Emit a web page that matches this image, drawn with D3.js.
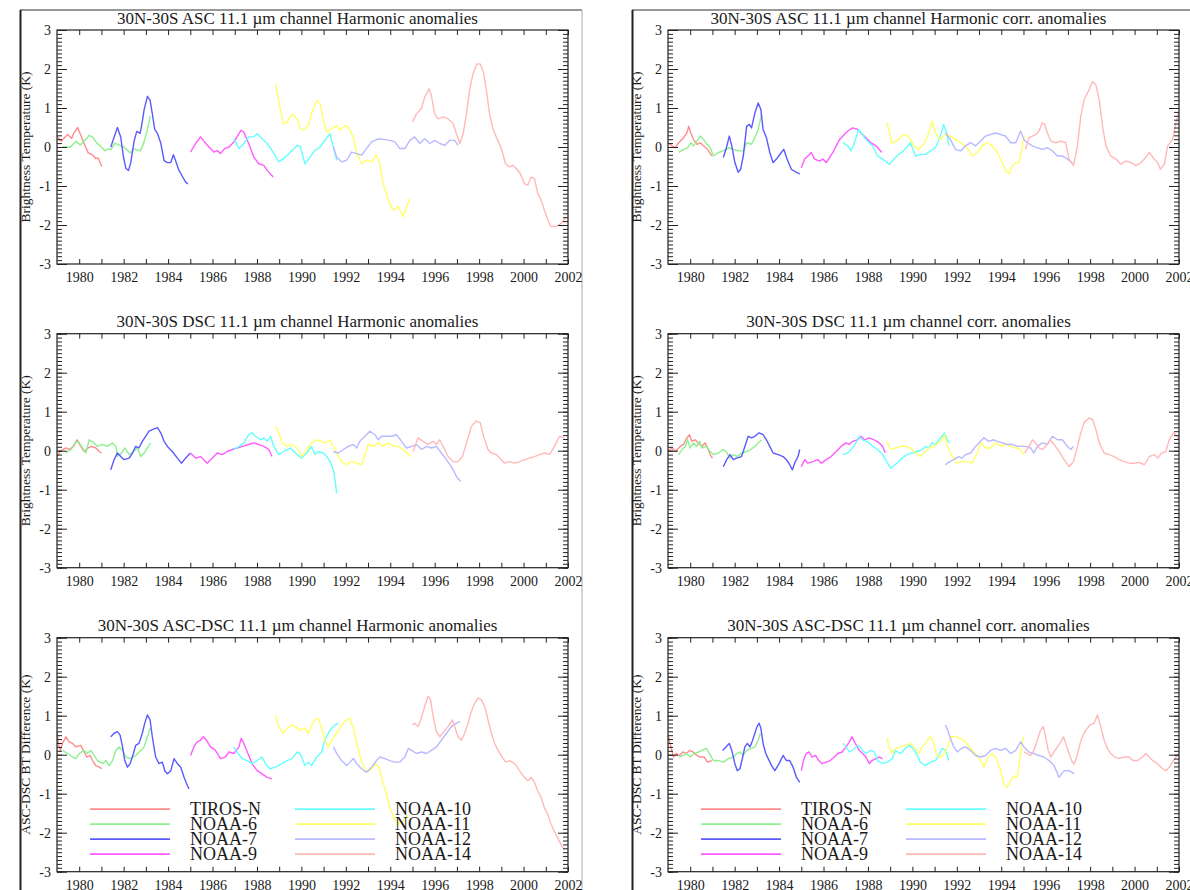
<!DOCTYPE html>
<html>
<head>
<meta charset="utf-8">
<script src="https://cdn.jsdelivr.net/npm/d3@7"></script>
<style>
  body { margin: 0; background: #fff; }
  svg text { font-family: "Liberation Serif", "Times New Roman", serif; fill: #1a1a1a; }
</style>
</head>
<body>
<svg id="chart" width="1190" height="890"></svg>
<script>
// satellites, in legend order
const satellites = ["TIROS-N", "NOAA-6", "NOAA-7", "NOAA-9", "NOAA-10", "NOAA-11", "NOAA-12", "NOAA-14"];
const xTickLabels = [1980, 1982, 1984, 1986, 1988, 1990, 1992, 1994, 1996, 1998, 2000, 2002];
const yTickLabels = [-3, -2, -1, 0, 1, 2, 3];
const panelTitles = [
  "30N-30S ASC 11.1 \u00b5m channel Harmonic anomalies",
  "30N-30S DSC 11.1 \u00b5m channel Harmonic anomalies",
  "30N-30S ASC-DSC 11.1 \u00b5m channel Harmonic anomalies",
  "30N-30S ASC 11.1 \u00b5m channel Harmonic corr. anomalies",
  "30N-30S DSC 11.1 \u00b5m channel corr. anomalies",
  "30N-30S ASC-DSC 11.1 \u00b5m channel corr. anomalies"
];
const yTitles = ["Brightness Temperature (K)", "Brightness Temperature (K)", "ASC-DSC BT Difference (K)"];

// [year, K], one list per satellite
const ascHarmonic = [
  [[1979.0,0.28],[1979.18,0.15],[1979.48,0.32],[1979.66,0.22],[1979.75,0.35],[1979.93,0.5],[1980.07,0.3],[1980.25,0.05],[1980.4,-0.15],[1980.6,-0.2],[1980.75,-0.3],[1980.85,-0.28],[1981.02,-0.5]],
  [[1979.25,0.0],[1979.6,0.0],[1979.85,0.15],[1980.05,0.05],[1980.3,0.2],[1980.45,0.3],[1980.6,0.25],[1980.8,0.1],[1981.0,0.0],[1981.15,-0.1],[1981.3,-0.05],[1981.45,-0.05],[1981.6,0.1],[1981.8,0.05],[1982.0,0.0],[1982.3,-0.15],[1982.45,-0.05],[1982.75,-0.1],[1982.9,0.1],[1983.05,0.4],[1983.2,0.8]],
  [[1981.42,0.0],[1981.57,0.25],[1981.72,0.5],[1981.87,0.25],[1981.99,-0.25],[1982.1,-0.55],[1982.22,-0.6],[1982.32,-0.4],[1982.47,0.15],[1982.59,0.4],[1982.74,0.35],[1982.84,0.65],[1982.92,0.95],[1983.07,1.3],[1983.19,1.2],[1983.29,0.85],[1983.4,0.45],[1983.52,0.35],[1983.67,0.1],[1983.82,-0.35],[1983.97,-0.4],[1984.12,-0.4],[1984.24,-0.2],[1984.34,-0.35],[1984.49,-0.6],[1984.64,-0.75],[1984.79,-0.9],[1984.9,-0.95]],
  [[1985.01,-0.13],[1985.24,0.09],[1985.46,0.26],[1985.64,0.13],[1985.84,0.0],[1986.06,-0.13],[1986.21,-0.09],[1986.36,-0.17],[1986.54,-0.04],[1986.74,0.0],[1986.96,0.13],[1987.14,0.3],[1987.29,0.43],[1987.41,0.38],[1987.63,0.09],[1987.86,-0.26],[1988.08,-0.43],[1988.31,-0.47],[1988.46,-0.6],[1988.73,-0.77]],
  [[1986.96,0.21],[1987.19,-0.04],[1987.41,0.09],[1987.63,0.26],[1987.86,0.26],[1988.01,0.34],[1988.23,0.21],[1988.46,0.09],[1988.68,-0.09],[1988.98,-0.38],[1989.28,-0.26],[1989.58,-0.09],[1989.81,0.04],[1989.95,0.02],[1990.16,-0.43],[1990.39,-0.26],[1990.61,-0.09],[1990.84,0.0],[1991.06,0.17],[1991.29,0.34],[1991.44,0.0],[1991.59,-0.34]],
  [[1988.83,1.62],[1988.98,1.19],[1989.18,0.6],[1989.36,0.64],[1989.58,0.85],[1989.81,0.72],[1989.96,0.47],[1990.09,0.43],[1990.31,0.55],[1990.46,0.85],[1990.69,1.19],[1990.84,1.11],[1990.99,0.68],[1991.14,0.38],[1991.36,0.47],[1991.59,0.55],[1991.74,0.43],[1991.96,0.55],[1992.11,0.51],[1992.34,0.26],[1992.49,-0.17],[1992.71,-0.43],[1992.93,-0.34],[1993.16,-0.38],[1993.38,-0.21],[1993.53,-0.43],[1993.68,-0.94],[1993.91,-1.36],[1994.13,-1.62],[1994.36,-1.53],[1994.58,-1.79],[1994.73,-1.53],[1994.88,-1.32]],
  [[1991.44,0],[1991.59,-0.26],[1991.81,-0.38],[1992.04,-0.34],[1992.26,-0.13],[1992.49,-0.17],[1992.71,-0.21],[1992.93,-0.04],[1993.16,0.13],[1993.46,0.21],[1993.76,0.19],[1993.98,0.17],[1994.21,0.13],[1994.43,-0.04],[1994.66,-0.04],[1994.88,0.17],[1995.1,0.26],[1995.33,0.09],[1995.55,0.21],[1995.78,0.09],[1996.0,0.17],[1996.23,0.09],[1996.45,0.04],[1996.68,0.17],[1996.9,0.17],[1997.05,0.04]],
  [[1995.0,0.64],[1995.18,0.85],[1995.4,0.98],[1995.55,1.28],[1995.75,1.49],[1995.85,1.32],[1996.0,0.85],[1996.15,0.72],[1996.38,0.77],[1996.6,0.72],[1996.83,0.6],[1996.98,0.34],[1997.13,0.09],[1997.28,0.34],[1997.43,0.85],[1997.57,1.45],[1997.72,1.87],[1997.9,2.13],[1998.05,2.13],[1998.2,1.91],[1998.35,1.36],[1998.47,0.85],[1998.62,0.47],[1998.77,0.26],[1999.0,-0.04],[1999.19,-0.43],[1999.37,-0.51],[1999.52,-0.47],[1999.67,-0.55],[1999.85,-0.68],[2000.04,-0.94],[2000.19,-0.98],[2000.34,-0.77],[2000.49,-0.81],[2000.64,-1.19],[2000.79,-1.36],[2000.94,-1.62],[2001.09,-1.87],[2001.23,-2.04],[2001.46,-2.04],[2001.69,-1.96],[2001.92,-1.79]]
];

const dscHarmonic = [
  [[1979.0,-0.15],[1979.18,0.0],[1979.4,0.07],[1979.55,0.03],[1979.75,0.11],[1979.9,0.28],[1980.07,0.11],[1980.22,-0.02],[1980.4,0.07],[1980.55,0.11],[1980.75,0.07],[1980.9,-0.02],[1981.0,-0.06]],
  [[1979.4,-0.06],[1979.63,0.03],[1979.81,0.2],[1979.96,0.24],[1980.15,0.07],[1980.3,-0.06],[1980.45,0.28],[1980.67,0.2],[1980.82,0.11],[1981.05,0.16],[1981.27,0.11],[1981.5,0.2],[1981.65,0.11],[1981.72,-0.15],[1981.9,-0.06],[1982.05,0.07],[1982.25,-0.1],[1982.44,-0.02],[1982.62,0.07],[1982.77,-0.15],[1982.92,-0.06],[1983.07,0.07],[1983.22,0.2]],
  [[1981.42,-0.49],[1981.57,-0.23],[1981.72,-0.06],[1981.87,-0.15],[1982.02,-0.23],[1982.25,-0.19],[1982.4,-0.06],[1982.54,0.11],[1982.69,0.07],[1982.84,0.24],[1982.99,0.37],[1983.14,0.5],[1983.29,0.54],[1983.52,0.59],[1983.67,0.46],[1983.82,0.24],[1983.97,0.11],[1984.19,-0.02],[1984.42,-0.19],[1984.6,-0.32],[1984.79,-0.19],[1985.01,-0.06]],
  [[1985.01,-0.06],[1985.24,-0.19],[1985.46,-0.15],[1985.76,-0.32],[1985.99,-0.19],[1986.21,-0.06],[1986.44,-0.1],[1986.66,-0.02],[1986.89,0.03],[1987.11,0.07],[1987.34,0.11],[1987.63,0.16],[1987.86,0.2],[1988.08,0.16],[1988.31,0.11],[1988.53,0.03],[1988.68,-0.15]],
  [[1986.96,0.03],[1987.19,0.11],[1987.41,0.2],[1987.63,0.41],[1987.78,0.46],[1987.93,0.37],[1988.16,0.28],[1988.31,0.33],[1988.46,0.24],[1988.61,0.37],[1988.76,0.11],[1988.98,-0.1],[1989.21,-0.02],[1989.51,0.07],[1989.66,-0.02],[1989.85,-0.12],[1990.01,-0.19],[1990.24,-0.06],[1990.46,0.11],[1990.61,-0.1],[1990.76,-0.02],[1990.99,-0.06],[1991.14,-0.15],[1991.29,-0.28],[1991.44,-0.49],[1991.51,-0.75],[1991.59,-1.09]],
  [[1988.83,0.63],[1988.98,0.46],[1989.13,0.2],[1989.36,0.11],[1989.58,0.16],[1989.81,0.07],[1990.01,-0.15],[1990.24,0.03],[1990.46,0.2],[1990.69,0.28],[1990.91,0.24],[1991.06,0.2],[1991.29,0.28],[1991.44,0.11],[1991.66,-0.15],[1991.81,-0.28],[1992.04,-0.36],[1992.26,-0.28],[1992.49,-0.32],[1992.71,-0.36],[1992.86,-0.1],[1993.01,0.16],[1993.23,0.11],[1993.46,0.2],[1993.68,0.11],[1993.91,0.2],[1994.13,0.11],[1994.36,0.11],[1994.58,0.03],[1994.81,-0.1],[1994.96,-0.15]],
  [[1991.44,-0.02],[1991.66,-0.06],[1991.89,0.03],[1992.11,0.11],[1992.34,0.16],[1992.49,0.07],[1992.63,0.24],[1992.86,0.37],[1993.08,0.5],[1993.31,0.41],[1993.46,0.28],[1993.61,0.37],[1993.83,0.37],[1994.06,0.37],[1994.28,0.41],[1994.51,0.24],[1994.73,0.07],[1994.96,0.11],[1995.18,0.16],[1995.41,0.03],[1995.63,0.11],[1995.85,0.07],[1996.08,0.11],[1996.3,-0.06],[1996.53,-0.23],[1996.75,-0.41],[1996.98,-0.66],[1997.16,-0.79]],
  [[1995.03,-0.02],[1995.25,0.33],[1995.48,0.24],[1995.7,0.16],[1995.93,0.24],[1996.08,0.16],[1996.23,0.28],[1996.38,0.11],[1996.6,-0.15],[1996.83,-0.28],[1997.05,-0.28],[1997.25,-0.15],[1997.43,0.2],[1997.66,0.63],[1997.87,0.76],[1998.05,0.72],[1998.2,0.37],[1998.4,0.03],[1998.55,-0.06],[1998.77,-0.1],[1999.0,-0.23],[1999.15,-0.32],[1999.37,-0.28],[1999.6,-0.32],[1999.82,-0.28],[2000.04,-0.23],[2000.27,-0.19],[2000.49,-0.15],[2000.72,-0.1],[2000.94,-0.06],[2001.17,-0.1],[2001.39,0.11],[2001.62,0.37],[2001.84,0.33]]
];

const ascDscHarmonic = [
  [[1979.0,0.59],[1979.06,0.29],[1979.15,0.11],[1979.25,0.29],[1979.4,0.46],[1979.55,0.33],[1979.7,0.29],[1979.85,0.2],[1980.07,0.24],[1980.22,0.07],[1980.34,-0.06],[1980.49,-0.02],[1980.6,-0.15],[1980.75,-0.28],[1980.9,-0.32],[1981.02,-0.36]],
  [[1979.25,0.11],[1979.48,0.03],[1979.7,-0.06],[1979.85,-0.1],[1980.0,0.03],[1980.22,0.11],[1980.37,0.03],[1980.52,0.11],[1980.67,-0.02],[1980.82,-0.15],[1981.05,-0.23],[1981.2,-0.15],[1981.35,-0.28],[1981.5,-0.15],[1981.65,0.11],[1981.8,0.2],[1981.95,0.11],[1982.1,-0.06],[1982.32,-0.1],[1982.54,-0.02],[1982.77,0.11],[1982.92,0.2],[1983.07,0.46],[1983.19,0.68]],
  [[1981.42,0.46],[1981.57,0.55],[1981.72,0.59],[1981.84,0.5],[1981.95,0.2],[1982.05,-0.15],[1982.17,-0.32],[1982.29,-0.23],[1982.44,0.03],[1982.54,0.24],[1982.69,0.29],[1982.84,0.55],[1982.95,0.81],[1983.07,1.02],[1983.19,0.89],[1983.29,0.46],[1983.44,-0.06],[1983.59,-0.23],[1983.74,-0.19],[1983.85,-0.41],[1983.97,-0.49],[1984.12,-0.41],[1984.27,-0.1],[1984.42,-0.23],[1984.57,-0.32],[1984.72,-0.58],[1984.84,-0.75],[1984.94,-0.88]],
  [[1985.01,-0.02],[1985.16,0.2],[1985.31,0.33],[1985.46,0.37],[1985.58,0.46],[1985.73,0.37],[1985.91,0.2],[1986.13,0.11],[1986.36,-0.1],[1986.57,-0.06],[1986.74,0.07],[1986.96,0.03],[1987.19,0.2],[1987.29,0.42],[1987.41,0.29],[1987.63,-0.02],[1987.78,-0.23],[1988.01,-0.41],[1988.23,-0.49],[1988.46,-0.58],[1988.68,-0.62]],
  [[1986.96,0.2],[1987.14,0.03],[1987.34,-0.1],[1987.56,-0.15],[1987.78,-0.23],[1988.01,-0.15],[1988.23,-0.06],[1988.38,-0.23],[1988.58,-0.36],[1988.83,-0.32],[1989.13,-0.23],[1989.36,-0.15],[1989.58,-0.1],[1989.81,0.07],[1989.94,0.03],[1990.16,-0.28],[1990.31,-0.19],[1990.46,-0.28],[1990.69,-0.06],[1990.91,0.07],[1991.06,0.37],[1991.21,0.55],[1991.36,0.68],[1991.51,0.76],[1991.66,0.81]],
  [[1988.83,1.02],[1988.98,0.72],[1989.18,0.55],[1989.36,0.68],[1989.58,0.76],[1989.73,0.72],[1989.94,0.63],[1990.16,0.68],[1990.31,0.55],[1990.46,0.76],[1990.61,0.89],[1990.76,0.94],[1990.91,0.68],[1991.06,0.37],[1991.21,0.2],[1991.36,0.37],[1991.59,0.55],[1991.74,0.68],[1991.89,0.81],[1992.04,0.89],[1992.16,0.94],[1992.34,0.68],[1992.49,0.29],[1992.63,-0.02],[1992.78,-0.28],[1992.96,-0.45],[1993.16,-0.36],[1993.35,-0.23],[1993.5,-0.32],[1993.65,-0.67],[1993.83,-1.01],[1993.98,-1.36],[1994.16,-1.62],[1994.36,-1.79],[1994.58,-1.71],[1994.81,-1.53]],
  [[1991.44,0.2],[1991.59,0.03],[1991.81,-0.15],[1992.04,-0.28],[1992.19,-0.19],[1992.34,-0.1],[1992.49,-0.23],[1992.71,-0.36],[1992.93,-0.45],[1993.16,-0.32],[1993.38,-0.15],[1993.53,-0.06],[1993.76,-0.1],[1993.98,-0.15],[1994.21,-0.19],[1994.43,-0.19],[1994.66,-0.06],[1994.81,0.16],[1994.96,0.11],[1995.18,0.03],[1995.4,0.07],[1995.63,0.03],[1995.85,0.11],[1996.08,0.2],[1996.3,0.37],[1996.53,0.55],[1996.75,0.72],[1996.98,0.81],[1997.13,0.85]],
  [[1995.0,0.76],[1995.1,0.81],[1995.25,0.72],[1995.4,0.94],[1995.55,1.24],[1995.7,1.5],[1995.81,1.41],[1995.93,0.98],[1996.08,0.59],[1996.23,0.46],[1996.41,0.59],[1996.6,0.72],[1996.8,0.89],[1996.9,0.72],[1997.05,0.46],[1997.2,0.37],[1997.35,0.55],[1997.5,0.81],[1997.65,1.11],[1997.8,1.32],[1997.95,1.45],[1998.1,1.41],[1998.25,1.24],[1998.4,0.89],[1998.55,0.55],[1998.7,0.29],[1998.85,0.11],[1999.04,-0.06],[1999.19,-0.19],[1999.37,-0.15],[1999.6,-0.23],[1999.82,-0.41],[2000.04,-0.58],[2000.19,-0.67],[2000.34,-0.58],[2000.49,-0.71],[2000.64,-0.93],[2000.79,-1.1],[2000.94,-1.36],[2001.09,-1.53],[2001.24,-1.79],[2001.39,-1.97],[2001.54,-2.14],[2001.69,-2.31],[2001.84,-2.44]]
];

const ascCorr = [
  [[1979.0,0.11],[1979.18,0.03],[1979.33,-0.02],[1979.48,0.11],[1979.7,0.24],[1979.85,0.36],[1979.93,0.53],[1980.03,0.36],[1980.15,0.19],[1980.3,0.07],[1980.45,0.11],[1980.6,0.03],[1980.78,-0.06],[1980.97,-0.23]],
  [[1979.48,-0.14],[1979.7,-0.06],[1979.88,-0.02],[1980.03,0.11],[1980.15,0.03],[1980.3,0.15],[1980.45,0.28],[1980.6,0.19],[1980.75,0.07],[1980.9,-0.02],[1981.04,-0.23],[1981.27,-0.14],[1981.49,-0.1],[1981.72,-0.02],[1981.94,-0.06],[1982.16,-0.1],[1982.39,-0.1],[1982.54,0.11],[1982.76,0.07],[1982.91,0.24],[1983.06,0.45],[1983.21,0.83]],
  [[1981.49,-0.27],[1981.61,-0.06],[1981.76,0.28],[1981.87,0.03],[1982.01,-0.4],[1982.16,-0.65],[1982.27,-0.57],[1982.39,-0.23],[1982.54,0.53],[1982.66,0.58],[1982.76,0.49],[1982.91,0.87],[1983.06,1.13],[1983.18,0.96],[1983.28,0.45],[1983.43,0.24],[1983.58,-0.14],[1983.73,-0.4],[1983.88,-0.31],[1984.1,-0.14],[1984.21,-0.06],[1984.36,-0.31],[1984.55,-0.57],[1984.78,-0.65],[1984.93,-0.69]],
  [[1985.0,-0.53],[1985.15,-0.31],[1985.3,-0.23],[1985.45,-0.14],[1985.6,-0.31],[1985.82,-0.36],[1985.97,-0.31],[1986.12,-0.4],[1986.27,-0.27],[1986.42,-0.14],[1986.57,0.03],[1986.72,0.19],[1986.94,0.32],[1987.09,0.41],[1987.31,0.49],[1987.54,0.45],[1987.69,0.36],[1987.91,0.24],[1988.13,0.11],[1988.36,0.03],[1988.63,-0.14]],
  [[1986.87,0.11],[1987.09,0.03],[1987.24,-0.1],[1987.39,0.11],[1987.58,0.45],[1987.76,0.32],[1987.91,0.19],[1988.06,0.11],[1988.21,0.03],[1988.43,-0.23],[1988.66,-0.31],[1988.96,-0.44],[1989.3,-0.23],[1989.6,-0.1],[1989.91,0.11],[1990.14,-0.23],[1990.36,-0.19],[1990.59,-0.19],[1990.81,-0.1],[1991.04,-0.02],[1991.26,0.28],[1991.41,0.58],[1991.56,0.32],[1991.64,0.03]],
  [[1988.84,0.62],[1988.96,0.41],[1989.07,0.11],[1989.16,0.11],[1989.38,0.19],[1989.61,0.32],[1989.83,0.28],[1990.06,0.03],[1990.29,-0.06],[1990.51,0.07],[1990.74,0.36],[1990.89,0.66],[1991.04,0.36],[1991.26,0.19],[1991.49,0.32],[1991.71,0.28],[1991.94,0.19],[1992.17,0.11],[1992.47,-0.02],[1992.69,-0.23],[1992.92,-0.14],[1993.14,0.03],[1993.37,0.11],[1993.59,0.03],[1993.82,-0.14],[1994.05,-0.4],[1994.2,-0.61],[1994.35,-0.69],[1994.5,-0.48],[1994.65,-0.4],[1994.8,-0.4],[1994.95,0.03],[1995.05,0.28]],
  [[1991.49,0.36],[1991.71,0.19],[1991.94,-0.06],[1992.17,-0.1],[1992.39,0.03],[1992.62,0.11],[1992.84,0.03],[1993.07,0.15],[1993.29,0.28],[1993.52,0.32],[1993.74,0.36],[1993.97,0.32],[1994.2,0.28],[1994.42,0.11],[1994.65,0.11],[1994.87,0.41],[1995.02,0.19],[1995.17,0.11],[1995.4,0.03],[1995.62,-0.02],[1995.85,-0.06],[1996.08,-0.02],[1996.3,-0.1],[1996.53,-0.23],[1996.75,-0.23],[1996.98,-0.31],[1997.2,-0.4]],
  [[1995.1,-0.06],[1995.25,0.24],[1995.4,0.28],[1995.55,0.32],[1995.7,0.41],[1995.85,0.62],[1995.95,0.58],[1996.08,0.36],[1996.23,0.15],[1996.45,0.11],[1996.68,0.15],[1996.9,0.11],[1997.05,-0.31],[1997.25,-0.48],[1997.43,0.03],[1997.58,0.79],[1997.73,1.21],[1997.95,1.47],[1998.11,1.68],[1998.26,1.59],[1998.41,1.21],[1998.56,0.53],[1998.71,0.03],[1998.93,-0.23],[1999.16,-0.31],[1999.38,-0.44],[1999.61,-0.36],[1999.83,-0.4],[2000.06,-0.48],[2000.29,-0.4],[2000.44,-0.31],[2000.66,-0.14],[2000.89,-0.31],[2001.04,-0.4],[2001.16,-0.57],[2001.34,-0.44],[2001.49,0.03],[2001.71,0.19],[2001.86,0.62],[2002.0,0.9]]
];

const dscCorr = [
  [[1979.0,-0.02],[1979.18,0.07],[1979.33,-0.02],[1979.55,0.11],[1979.7,0.16],[1979.85,0.33],[1979.97,0.41],[1980.07,0.24],[1980.22,0.28],[1980.37,0.2],[1980.52,0.11],[1980.67,0.2],[1980.78,0.07],[1980.9,-0.1],[1981.0,-0.19]],
  [[1979.48,-0.1],[1979.63,0.03],[1979.78,0.11],[1979.88,0.28],[1980.0,0.07],[1980.15,0.2],[1980.3,0.11],[1980.42,0.24],[1980.52,0.07],[1980.72,0.11],[1980.9,-0.02],[1981.04,-0.1],[1981.27,-0.06],[1981.49,0.03],[1981.61,-0.02],[1981.79,-0.19],[1981.94,-0.1],[1982.12,-0.15],[1982.31,-0.06],[1982.54,-0.02],[1982.72,0.03],[1982.91,0.11],[1983.06,0.2],[1983.21,0.28]],
  [[1981.49,-0.41],[1981.64,-0.23],[1981.79,-0.1],[1981.94,-0.23],[1982.09,-0.19],[1982.31,-0.15],[1982.46,0.11],[1982.61,0.37],[1982.76,0.33],[1982.91,0.37],[1983.1,0.46],[1983.28,0.41],[1983.43,0.28],[1983.58,0.11],[1983.73,-0.06],[1983.96,-0.1],[1984.18,-0.15],[1984.33,-0.23],[1984.48,-0.36],[1984.6,-0.49],[1984.7,-0.32],[1984.85,-0.15],[1984.93,0.03]],
  [[1985.0,-0.41],[1985.15,-0.23],[1985.3,-0.32],[1985.52,-0.28],[1985.75,-0.23],[1985.9,-0.32],[1986.12,-0.23],[1986.34,-0.15],[1986.57,-0.02],[1986.79,0.11],[1987.01,0.2],[1987.16,0.16],[1987.31,0.24],[1987.54,0.28],[1987.69,0.37],[1987.84,0.28],[1988.06,0.33],[1988.28,0.28],[1988.51,0.2],[1988.66,0.11],[1988.78,-0.06]],
  [[1986.87,-0.1],[1987.09,-0.06],[1987.31,0.07],[1987.46,0.2],[1987.61,0.37],[1987.76,0.28],[1987.91,0.24],[1988.06,0.2],[1988.21,0.11],[1988.43,0.03],[1988.66,-0.1],[1988.88,-0.32],[1989.03,-0.45],[1989.31,-0.32],[1989.53,-0.19],[1989.76,-0.1],[1989.98,-0.06],[1990.21,-0.02],[1990.44,0.03],[1990.59,0.11],[1990.74,0.07],[1990.89,0.2],[1991.04,0.16],[1991.19,0.28],[1991.34,0.37],[1991.44,0.46],[1991.56,0.28],[1991.68,0.2]],
  [[1988.84,0.24],[1988.99,0.07],[1989.1,0.03],[1989.23,0.07],[1989.46,0.11],[1989.68,0.11],[1989.91,0.07],[1990.14,-0.06],[1990.36,-0.15],[1990.51,-0.06],[1990.74,0.07],[1990.96,0.11],[1991.19,0.2],[1991.34,0.28],[1991.44,0.41],[1991.59,0.11],[1991.79,-0.15],[1992.02,-0.32],[1992.24,-0.28],[1992.47,-0.28],[1992.69,-0.32],[1992.92,-0.06],[1993.07,0.2],[1993.29,0.07],[1993.52,0.07],[1993.74,0.2],[1993.97,0.11],[1994.2,0.16],[1994.42,0.11],[1994.65,0.07],[1994.87,0.03],[1995.02,-0.1]],
  [[1991.49,-0.36],[1991.68,-0.28],[1991.86,-0.23],[1992.09,-0.15],[1992.24,-0.19],[1992.39,-0.1],[1992.62,-0.06],[1992.84,0.11],[1993.07,0.24],[1993.22,0.33],[1993.44,0.24],[1993.67,0.28],[1993.82,0.24],[1994.05,0.2],[1994.27,0.16],[1994.5,0.16],[1994.72,0.11],[1994.95,0.11],[1995.1,0.11],[1995.32,0.07],[1995.47,-0.06],[1995.62,0.11],[1995.85,0.2],[1996.08,0.16],[1996.3,0.37],[1996.53,0.28],[1996.75,0.28],[1996.98,0.11],[1997.13,0.03],[1997.25,0.11]],
  [[1995.05,-0.06],[1995.25,0.11],[1995.4,0.28],[1995.55,0.2],[1995.7,0.07],[1995.85,0.03],[1996.0,0.11],[1996.2,0.28],[1996.38,0.16],[1996.6,-0.02],[1996.83,-0.23],[1997.05,-0.41],[1997.25,-0.28],[1997.43,0.11],[1997.58,0.46],[1997.73,0.72],[1997.95,0.84],[1998.11,0.8],[1998.26,0.54],[1998.41,0.2],[1998.63,-0.06],[1998.86,-0.1],[1999.08,-0.15],[1999.31,-0.23],[1999.53,-0.28],[1999.76,-0.32],[1999.98,-0.32],[2000.21,-0.3],[2000.44,-0.36],[2000.66,-0.15],[2000.89,-0.1],[2001.04,-0.19],[2001.22,-0.06],[2001.41,-0.02],[2001.56,0.28],[2001.76,0.46],[2001.91,0.37],[2002.0,0.28]]
];

const ascDscCorr = [
  [[1979.0,0.5],[1979.13,0.2],[1979.25,-0.06],[1979.37,0.03],[1979.52,-0.02],[1979.67,0.07],[1979.82,0.03],[1979.97,0.11],[1980.12,0.07],[1980.3,-0.02],[1980.45,-0.06],[1980.63,-0.06],[1980.78,-0.19],[1980.97,-0.15]],
  [[1979.48,-0.06],[1979.67,-0.02],[1979.82,0.03],[1980.0,-0.06],[1980.18,0.03],[1980.37,0.07],[1980.52,0.11],[1980.72,0.16],[1980.87,0.03],[1981.04,-0.15],[1981.27,-0.15],[1981.49,-0.19],[1981.72,-0.1],[1981.94,-0.06],[1982.09,0.03],[1982.24,0.07],[1982.39,-0.02],[1982.54,0.11],[1982.76,0.16],[1982.91,0.2],[1983.06,0.37],[1983.16,0.55]],
  [[1981.46,0.11],[1981.61,0.2],[1981.76,0.29],[1981.87,0.11],[1982.01,-0.23],[1982.12,-0.41],[1982.24,-0.36],[1982.36,-0.06],[1982.46,0.2],[1982.57,0.29],[1982.69,0.2],[1982.81,0.37],[1982.91,0.55],[1983.01,0.72],[1983.1,0.81],[1983.18,0.68],[1983.28,0.29],[1983.4,0.03],[1983.51,-0.1],[1983.66,-0.28],[1983.81,-0.41],[1984.0,-0.23],[1984.18,-0.02],[1984.33,-0.15],[1984.48,-0.15],[1984.63,-0.32],[1984.78,-0.58],[1984.93,-0.71]],
  [[1985.0,-0.41],[1985.1,-0.15],[1985.22,0.03],[1985.34,0.07],[1985.49,-0.06],[1985.64,-0.02],[1985.79,-0.15],[1985.94,-0.23],[1986.12,-0.19],[1986.3,-0.15],[1986.49,-0.06],[1986.64,0.03],[1986.84,0.07],[1987.01,0.2],[1987.16,0.33],[1987.28,0.46],[1987.43,0.29],[1987.61,0.11],[1987.76,0.03],[1987.91,-0.06],[1988.06,-0.23],[1988.18,-0.15],[1988.36,-0.1],[1988.51,-0.06],[1988.66,-0.1]],
  [[1986.87,0.29],[1987.01,0.2],[1987.16,0.07],[1987.39,0.16],[1987.58,0.24],[1987.76,0.11],[1987.91,0.03],[1988.13,0.11],[1988.28,0.07],[1988.43,-0.15],[1988.66,-0.23],[1988.88,-0.19],[1989.1,-0.1],[1989.23,0.11],[1989.46,0.03],[1989.68,0.16],[1989.91,0.24],[1990.14,0.07],[1990.36,-0.19],[1990.59,-0.28],[1990.81,-0.19],[1991.04,-0.15],[1991.19,-0.02],[1991.34,0.16],[1991.49,0.11],[1991.64,-0.15]],
  [[1988.84,0.42],[1988.96,0.2],[1989.07,0.03],[1989.23,0.16],[1989.46,0.2],[1989.68,0.24],[1989.91,0.29],[1990.14,0.16],[1990.29,0.03],[1990.44,0.2],[1990.59,0.29],[1990.74,0.42],[1990.84,0.46],[1990.96,0.29],[1991.11,-0.02],[1991.26,-0.06],[1991.44,0.03],[1991.59,0.2],[1991.74,0.46],[1991.94,0.46],[1992.17,0.42],[1992.39,0.33],[1992.62,0.16],[1992.84,0.03],[1993.07,-0.15],[1993.22,-0.32],[1993.4,-0.06],[1993.59,0.03],[1993.79,-0.1],[1993.97,-0.41],[1994.12,-0.75],[1994.27,-0.84],[1994.42,-0.67],[1994.57,-0.54],[1994.72,-0.58],[1994.87,0.03],[1994.99,0.46]],
  [[1991.49,0.76],[1991.59,0.63],[1991.71,0.42],[1991.86,0.2],[1992.02,0.07],[1992.2,0.16],[1992.39,0.2],[1992.62,0.11],[1992.84,-0.02],[1993.07,-0.06],[1993.29,-0.02],[1993.52,0.11],[1993.74,0.16],[1993.97,0.11],[1994.2,0.16],[1994.42,0.03],[1994.65,0.11],[1994.87,0.33],[1995.02,0.2],[1995.25,0.07],[1995.47,0.03],[1995.7,-0.02],[1995.92,-0.06],[1996.15,-0.15],[1996.38,-0.28],[1996.6,-0.58],[1996.83,-0.41],[1997.05,-0.41],[1997.28,-0.49]],
  [[1995.02,0.07],[1995.17,0.03],[1995.32,-0.02],[1995.47,0.11],[1995.62,0.37],[1995.77,0.63],[1995.89,0.72],[1996.0,0.46],[1996.11,0.11],[1996.23,-0.06],[1996.38,0.07],[1996.53,0.2],[1996.68,0.33],[1996.8,0.46],[1996.9,0.29],[1997.05,0.03],[1997.2,-0.19],[1997.28,-0.23],[1997.4,-0.06],[1997.55,0.29],[1997.65,0.46],[1997.8,0.63],[1998.0,0.76],[1998.18,0.81],[1998.33,1.02],[1998.48,0.72],[1998.63,0.37],[1998.78,0.16],[1998.93,0.03],[1999.11,-0.06],[1999.31,-0.1],[1999.53,-0.06],[1999.76,-0.06],[1999.91,-0.15],[2000.14,-0.15],[2000.36,-0.06],[2000.51,0.03],[2000.66,-0.06],[2000.81,-0.15],[2001.04,-0.23],[2001.26,-0.36],[2001.41,-0.41],[2001.56,-0.32],[2001.71,-0.19],[2001.86,-0.06],[2002.0,0.03]]
];

// styling
const colors = ["#ff8c8c", "#8ef08e", "#5a5aff", "#ff5cff", "#66ffff", "#ffff66", "#b9b9ff", "#ffb9b9"];
const serif = '"Liberation Serif", "Times New Roman", serif';
const plotW = 511, plotH = 234;
const colLeft = [57, 668];
const rowTop = [30, 333.7, 637.7];

const panels = [
  {col: 0, row: 0, data: ascHarmonic, title: panelTitles[0], ytitle: yTitles[0]},
  {col: 0, row: 1, data: dscHarmonic, title: panelTitles[1], ytitle: yTitles[1]},
  {col: 0, row: 2, data: ascDscHarmonic, title: panelTitles[2], ytitle: yTitles[2], legend: true},
  {col: 1, row: 0, data: ascCorr, title: panelTitles[3], ytitle: yTitles[0]},
  {col: 1, row: 1, data: dscCorr, title: panelTitles[4], ytitle: yTitles[1]},
  {col: 1, row: 2, data: ascDscCorr, title: panelTitles[5], ytitle: yTitles[2], legend: true}
];

const svg = d3.select("#chart");
svg.append("rect").attr("width", 1190).attr("height", 890).attr("fill", "#fff");

// page frames round each column
[20, 632].forEach(fx => {
  svg.append("line").attr("x1", fx).attr("x2", fx + 562).attr("y1", 10).attr("y2", 10)
    .attr("stroke", "#333").attr("stroke-width", 1.2);
  svg.append("line").attr("x1", fx + 0.5).attr("x2", fx + 0.5).attr("y1", 10).attr("y2", 890)
    .attr("stroke", "#222").attr("stroke-width", 2);
  svg.append("line").attr("x1", fx + 562).attr("x2", fx + 562).attr("y1", 10).attr("y2", 890)
    .attr("stroke", "#aaa").attr("stroke-width", 1);
});

const x = d3.scaleLinear().domain([1979, 2002]).range([0, plotW]);
const y = d3.scaleLinear().domain([-3, 3]).range([plotH, 0]);
const line = d3.line().x(d => x(d[0])).y(d => y(d[1]));
const yearTicks = d3.range(1980, 2003);
const minorTicks = d3.range(-30, 31).map(d => d / 10);

function styleAxis(sel) {
  sel.select(".domain").remove();
  sel.selectAll("line").attr("stroke", "#222");
  sel.selectAll("text").style("font-family", serif)
    .style("font-size", "14px").attr("fill", "#1a1a1a");
}

panels.forEach((p, pi) => {
  const g = svg.append("g")
    .attr("transform", `translate(${colLeft[p.col]},${rowTop[p.row]})`);

  g.append("clipPath").attr("id", "clip" + pi)
    .append("rect").attr("width", plotW).attr("height", plotH);

  // data lines
  p.data.forEach((s, i) => {
    g.append("path").datum(s)
      .attr("d", line)
      .attr("fill", "none")
      .attr("stroke", colors[i])
      .attr("stroke-width", 1.4)
      .attr("stroke-linejoin", "round")
      .attr("clip-path", `url(#clip${pi})`);
  });

  // axes, ticks pointing inward
  g.append("g").attr("transform", `translate(0,${plotH})`)
    .call(d3.axisBottom(x).tickValues(yearTicks).tickSize(-5).tickPadding(8)
      .tickFormat(d => xTickLabels.includes(d) ? String(d) : ""))
    .call(styleAxis);
  g.append("g")
    .call(d3.axisTop(x).tickValues(yearTicks).tickSize(-5).tickFormat(""))
    .call(styleAxis);
  g.append("g")
    .call(d3.axisLeft(y).tickValues(minorTicks).tickSize(-5).tickFormat(""))
    .call(styleAxis);
  g.append("g")
    .call(d3.axisLeft(y).tickValues(yTickLabels).tickSize(-10).tickPadding(6).tickFormat(d => String(d)))
    .call(styleAxis);
  g.append("g").attr("transform", `translate(${plotW},0)`)
    .call(d3.axisRight(y).tickValues(minorTicks).tickSize(-5).tickFormat(""))
    .call(styleAxis);
  g.append("g").attr("transform", `translate(${plotW},0)`)
    .call(d3.axisRight(y).tickValues(yTickLabels).tickSize(-10).tickFormat(""))
    .call(styleAxis);

  g.append("rect").attr("width", plotW).attr("height", plotH)
    .attr("fill", "none").attr("stroke", "#222").attr("stroke-width", 1.2);

  g.append("text")
    .attr("x", plotW / 2 - 15).attr("y", -6.5)
    .attr("text-anchor", "middle").style("font-family", serif).style("font-size", "17px")
    .text(p.title);

  g.append("text")
    .attr("transform", `translate(-27,${plotH / 2}) rotate(-90)`)
    .attr("text-anchor", "middle").style("font-family", serif).style("font-size", "13.5px")
    .text(p.ytitle);

  if (p.legend) {
    satellites.forEach((name, i) => {
      const colX = i < 4 ? 0 : 205;
      const ly = 171.5 + (i % 4) * 15;
      g.append("line")
        .attr("x1", 33 + colX).attr("x2", 113 + colX)
        .attr("y1", ly).attr("y2", ly)
        .attr("stroke", colors[i]).attr("stroke-width", 1.8);
      g.append("text")
        .attr("x", 133 + colX).attr("y", ly).attr("dy", "0.33em")
        .style("font-family", serif).style("font-size", "18px")
        .text(name);
    });
  }
});
</script>
</body>
</html>
